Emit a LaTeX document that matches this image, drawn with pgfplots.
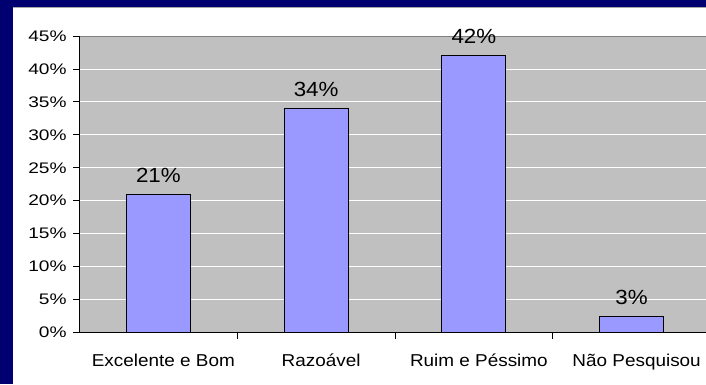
\documentclass[border=0pt]{standalone}
\usepackage{pgfplots}
\pgfplotsset{compat=1.18}
\usepackage{fontspec}
\setmainfont{Liberation Sans}
\definecolor{navy}{HTML}{000070}
\definecolor{plotgray}{HTML}{C0C0C0}
\definecolor{barblue}{HTML}{9999FF}
\begin{document}
\begin{tikzpicture}
\useasboundingbox (0,0) rectangle (706pt,384pt);
\clip (0,0) rectangle (706pt,384pt);
\fill[navy] (0,0) rectangle (706pt,384pt);
\fill[white] (12.5pt,0) rectangle (706pt,377pt);
\draw[gray!70,line width=0.8pt] (12.5pt,377pt) -- (706pt,377pt);
\begin{axis}[
  at={(79.5pt,51.5pt)}, anchor=south west,
  scale only axis, width=631pt, height=296.5pt,
  xmin=-0.5, xmax=3.5, ymin=0, ymax=45,
  axis background/.style={fill=plotgray},
  axis x line*=bottom, axis y line*=left,
  axis line style={black, line width=0.8pt, -},
  ytick={0,5,...,45},
  yticklabels={0\%,5\%,10\%,15\%,20\%,25\%,30\%,35\%,40\%,45\%},
  xtick={0,1,2,3},
  xticklabels={Excelente e Bom,Razoável,Ruim e Péssimo,Não Pesquisou},
  xtick style={draw=none},
  ytick style={black, line width=0.8pt},
  tick align=outside, major tick length=6pt,
  ymajorgrids, grid style={white, line width=0.8pt},
  yticklabel style={font=\fontsize{15.3}{18}\selectfont, xscale=1.25, xshift=-2pt},
  xticklabel style={font=\fontsize{17.2}{20}\selectfont, text height=12.5pt, text depth=3pt, xshift=5pt, yshift=-11.5pt, xscale=1.1},
  /pgf/number format/assume math mode=true,
  ybar, bar width=64pt,
  nodes near coords={\pgfplotspointmeta\%},
  point meta=explicit symbolic,
  every node near coord/.append style={font=\fontsize{20.5}{24}\selectfont, xscale=1.09, yshift=8pt, black},
  clip=false,
]
\addplot[fill=barblue, draw=black, line width=0.8pt] coordinates {(0,21) [21] (1,34) [34] (2,42) [42] (3,2.5) [3]};
\draw[gray, line width=0.8pt] (rel axis cs:0,1) -- (rel axis cs:1,1);
\draw[black, line width=0.8pt] (axis cs:0.5,0) -- ++(0pt,-6pt);
\draw[black, line width=0.8pt] (axis cs:1.5,0) -- ++(0pt,-6pt);
\draw[black, line width=0.8pt] (axis cs:2.5,0) -- ++(0pt,-6pt);
\end{axis}
\end{tikzpicture}
\end{document}
